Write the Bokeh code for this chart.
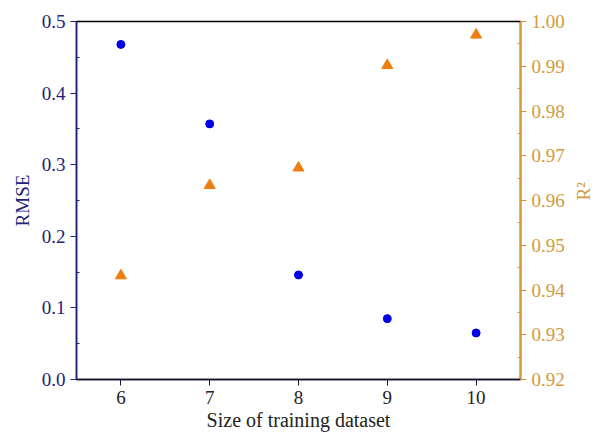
import math
from bokeh.plotting import figure
from bokeh.models import Range1d, LinearAxis, FixedTicker, NumeralTickFormatter, ColumnDataSource
from bokeh.embed import file_html
from bokeh.resources import INLINE

# Model accuracy versus training-set size
sizes = [6, 7, 8, 9, 10]
rmse = [0.468, 0.357, 0.146, 0.085, 0.065]
r2 = [0.9432, 0.9634, 0.9673, 0.9902, 0.9970]

x_ticks = [6, 7, 8, 9, 10]
rmse_ticks = [0.0, 0.1, 0.2, 0.3, 0.4, 0.5]
r2_ticks = [0.92, 0.93, 0.94, 0.95, 0.96, 0.97, 0.98, 0.99, 1.00]

FONT = "Liberation Serif"
NAVY = "#22227a"
GOLD = "#d39a3c"
BLUE = "#0000e6"
ORANGE = "#ee7f0e"

src = ColumnDataSource(dict(size=sizes, rmse=rmse, r2=r2))

p = figure(frame_width=444, frame_height=358, output_backend="svg", toolbar_location=None,
           x_range=Range1d(5.5, 10.5), y_range=Range1d(0.0, 0.5),
           min_border_left=76, min_border_right=73, min_border_top=21, min_border_bottom=60)
p.extra_y_ranges = {"r2": Range1d(0.92, 1.0)}

p.grid.visible = False
p.outline_line_color = "black"
p.outline_line_width = 1.5
p.background_fill_color = "white"
p.border_fill_color = "white"

# bottom axis
xa = p.xaxis[0]
xa.ticker = FixedTicker(ticks=x_ticks)
xa.axis_label = "Size of training dataset"
xa.axis_line_color = "#111133"
xa.axis_line_width = 1.5
xa.major_tick_line_color = "#111133"
xa.major_tick_out = 6
xa.major_tick_in = 0
xa.minor_tick_line_color = None
xa.major_label_text_font = FONT
xa.major_label_text_font_size = "19px"
xa.major_label_text_color = "#222222"
xa.major_label_standoff = 5
xa.axis_label_text_font = FONT
xa.axis_label_text_font_size = "20px"
xa.axis_label_text_font_style = "normal"
xa.axis_label_text_color = "#222222"
xa.axis_label_standoff = 2

# left axis: RMSE
ya = p.yaxis[0]
ya.ticker = FixedTicker(ticks=rmse_ticks, minor_ticks=[0.05, 0.15, 0.25, 0.35, 0.45])
ya.formatter = NumeralTickFormatter(format="0.0")
ya.axis_label = "RMSE"
ya.axis_line_color = NAVY
ya.axis_line_width = 1.5
ya.major_tick_line_color = NAVY
ya.minor_tick_line_color = NAVY
ya.major_tick_out = 6
ya.major_tick_in = 0
ya.minor_tick_out = 0
ya.minor_tick_in = 3
ya.major_label_text_font = FONT
ya.major_label_text_font_size = "19px"
ya.major_label_text_color = NAVY
ya.major_label_standoff = 5
ya.axis_label_text_font = FONT
ya.axis_label_text_font_size = "19px"
ya.axis_label_text_font_style = "normal"
ya.axis_label_text_color = NAVY
ya.axis_label_standoff = 6

# right axis: R²
ra = LinearAxis(y_range_name="r2", axis_label="R²")
ra.ticker = FixedTicker(ticks=r2_ticks,
                        minor_ticks=[0.925, 0.935, 0.945, 0.955, 0.965, 0.975, 0.985, 0.995])
ra.formatter = NumeralTickFormatter(format="0.00")
ra.axis_line_color = GOLD
ra.axis_line_width = 1.5
ra.major_tick_line_color = GOLD
ra.minor_tick_line_color = GOLD
ra.major_tick_out = 6
ra.major_tick_in = 0
ra.minor_tick_out = 0
ra.minor_tick_in = 3
ra.major_label_text_font = FONT
ra.major_label_text_font_size = "19px"
ra.major_label_text_color = GOLD
ra.major_label_standoff = 5
ra.axis_label_text_font = FONT
ra.axis_label_text_font_size = "19px"
ra.axis_label_text_font_style = "normal"
ra.axis_label_text_color = GOLD
ra.axis_label_standoff = 16
ra.axis_label_orientation = math.pi / 2
p.add_layout(ra, "right")

p.scatter("size", "rmse", source=src, marker="circle", size=8,
          fill_color=BLUE, line_color=BLUE)
p.scatter("size", "r2", source=src, marker="triangle", size=11,
          fill_color=ORANGE, line_color=ORANGE, y_range_name="r2")

open("out.html", "w").write(file_html(p, INLINE))
